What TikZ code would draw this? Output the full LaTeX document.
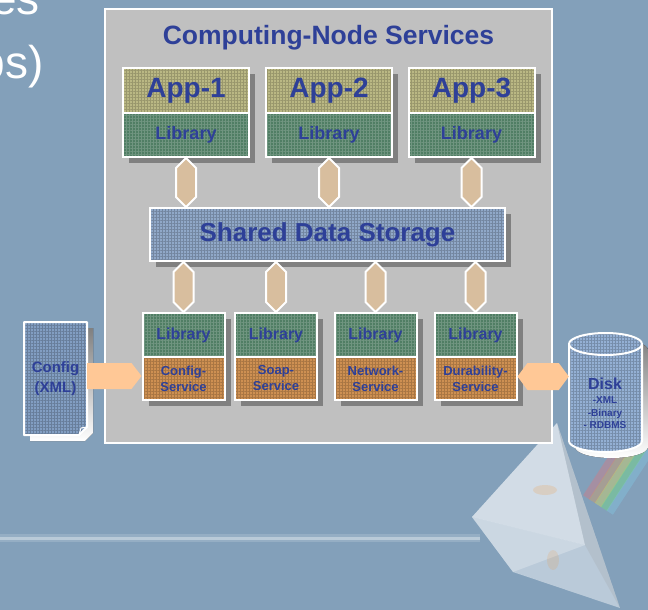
\documentclass[tikz,border=0pt]{standalone}
\usepackage{fontspec}
\setmainfont{Liberation Sans}
\usetikzlibrary{calc,shadows,patterns.meta}

\definecolor{bg}{RGB}{131,160,186}
\definecolor{panel}{RGB}{192,192,192}
\definecolor{ink}{RGB}{46,64,152}
\definecolor{apptop}{RGB}{186,184,132}
\definecolor{libgreen}{RGB}{80,126,100}
\definecolor{svcorange}{RGB}{206,144,82}
\definecolor{sdsblue}{RGB}{144,168,200}
\definecolor{docblue}{RGB}{130,158,194}
\definecolor{diskblue}{RGB}{148,176,212}
\definecolor{linktan}{RGB}{216,190,158}
\definecolor{peach}{RGB}{255,200,150}
\definecolor{shade}{RGB}{128,128,128}

\newcommand\sz[2]{\fontsize{#1}{#2}\selectfont}
% vertical double-headed link between two anchor points (upper, lower)
\newcommand\vlink[2]{\path[link] (#1) -- ($(#1)+(10,10)$) -- ($(#2)+(10,-10)$) -- (#2) -- ($(#2)+(-10,-10)$) -- ($(#1)+(-10,10)$) -- cycle;}
% the disk outline
\newcommand\diskpath{(569,344) -- (569,441) arc[start angle=180, end angle=0, x radius=36.5, y radius=11] -- (642,344) arc[start angle=0, end angle=-180, x radius=36.5, y radius=11] -- cycle}
% the folded document outline
\newcommand\docpath{(24,322) -- (87,322) -- (87,427) -- (79,435) -- (24,435) -- cycle}

\begin{document}
\begin{tikzpicture}[x=1pt,y=-1pt,
  gridfill/.style={pattern={Lines[distance=3pt,angle=0,line width=.5pt]}, pattern color=#1},
  gridfillv/.style={pattern={Lines[distance=3pt,angle=90,line width=.5pt]}, pattern color=#1},
  grain/.style={path picture={
      \fill[gridfill=#1] (path picture bounding box.south west) rectangle (path picture bounding box.north east);
      \fill[gridfillv=#1] (path picture bounding box.south west) rectangle (path picture bounding box.north east);}},
  box/.style={draw=white, line width=2pt, inner sep=0pt, text=ink},
  shadowed/.style={drop shadow={shadow xshift=6pt, shadow yshift=-6pt, fill=shade, opacity=1}},
  appbox/.style={box, shadowed, fill=apptop, grain=apptop!82!black, minimum width=126pt, minimum height=45pt, font=\bfseries\sz{28}{30}},
  applib/.style={box, shadowed, fill=libgreen, grain=libgreen!82!white, minimum width=126pt, minimum height=44pt, font=\bfseries\sz{18}{20}},
  svclib/.style={box, shadowed, fill=libgreen, grain=libgreen!82!white, minimum width=82pt, minimum height=44pt, font=\bfseries\sz{16}{18}},
  svc/.style={box, shadowed, fill=svcorange, grain=svcorange!82!black, minimum width=82pt, minimum height=43pt, font=\bfseries\sz{13}{16}, align=center},
  link/.style={fill=linktan, draw=white, line width=2pt, line join=miter},
  label/.style={text=ink, font=\bfseries, inner sep=0pt},
]
\useasboundingbox (0,0) rectangle (648,610);
\fill[bg] (0,0) rectangle (648,610);

% light beam and prism
\fill[white, opacity=0.15] (0,534) rectangle (480,542);
\fill[white, opacity=0.35] (0,536.5) rectangle (480,539.5);
\begin{scope}[line cap=butt]
  \foreach \o/\c in {-14/red!60!white, -7/orange!80!white, 0/yellow!80!white, 7/green!60!white, 14/cyan!50!white}{
    \draw[\c, opacity=0.28, line width=7.5pt] ($(598,505)+(0.841*\o,0.549*\o)$) -- ($(665,402)+(0.841*\o,0.549*\o)$);
  }
\end{scope}
\fill[white, opacity=0.45] (557,423) -- (472,517) -- (513,572) -- (620,608) -- cycle;
\fill[white, opacity=0.35] (557,423) -- (472,517) -- (585,545) -- cycle;
\fill[white, opacity=0.25] (472,517) -- (513,572) -- (585,545) -- cycle;
\fill[black!40, opacity=0.2] (557,423) -- (585,545) -- (620,608) -- cycle;
\fill[orange, opacity=0.15] (545,490) ellipse (12 and 5);
\fill[orange, opacity=0.12] (553,560) ellipse (6 and 10);

% heading fragments at the top left
\begin{scope}
  \clip (0,0) rectangle (648,610);
  \node[anchor=base east, text=white, font=\sz{46}{50}, inner sep=0pt] (hdA) at (40,15) {es};
  \node[anchor=base east, text=white, font=\sz{46}{50}, inner sep=0pt] (hdB) at (44,78) {ps)};
\end{scope}

% computing node panel
\node[draw=white, line width=2pt, fill=panel, minimum width=447pt, minimum height=434pt, inner sep=0pt] (panel) at (328.5,226) {};
\node[label, font=\bfseries\sz{26.5}{28}, anchor=base] (title) at (328.5,45) {Computing-Node Services};

% applications
\foreach \i/\x in {1/186, 2/329, 3/471.5}{
  \node[appbox] (app\i) at (\x,90.5) {App-\i};
  \node[applib] (lib\i) at (\x,135) {Library};
}

% shared storage
\node[box, shadowed, fill=sdsblue, grain=sdsblue!80!black, minimum width=355pt, minimum height=53pt, font=\bfseries\sz{26}{28}] (sds) at (327.5,234.5) {Shared Data Storage};

% services
\foreach \i/\x/\name in {1/183.5/Config, 2/276/Soap, 3/375.5/Network, 4/475.5/Durability}{
  \node[svclib] (slib\i) at (\x,335) {Library};
  \node[svc] (svc\i) at (\x,378.5) {\name-\\Service};
}

% links between libraries and storage
\foreach \i in {1,2,3}{ \vlink{lib\i.south}{lib\i.south |- sds.north} }
\foreach \i in {1,2,3,4}{ \vlink{slib\i.north |- sds.south}{slib\i.north} }

% configuration document
\fill[shade, shift={(6,6)}] \docpath;
\path[fill=docblue] \docpath;
\path[gridfill=docblue!80!black] \docpath;
\path[gridfillv=docblue!80!black] \docpath;
\draw[white, line width=2pt, line join=round] \docpath;
\draw[white, line width=1pt] (79,435) -- (81,428) -- (87,427);
\node[label, font=\bfseries\sz{15}{20}, align=center, minimum width=63pt, minimum height=113pt] (cfgdoc) at (55.5,378.5) {Config\\(XML)};

\coordinate (a1) at ($(cfgdoc.east)+(0,-2.5)$);
\coordinate (a2) at (a1 -| svc1.west);
\fill[peach] ($(a1)+(0,-13)$) -- ($(a2)+(-10,-13)$) -- (a2) -- ($(a2)+(-10,13)$) -- ($(a1)+(0,13)$) -- cycle;

% disk
\fill[shade, shift={(6,6)}] \diskpath;
\path[fill=diskblue] \diskpath;
\path[gridfill=diskblue!80!black] \diskpath;
\path[gridfillv=diskblue!80!black] \diskpath;
\draw[white, line width=2pt] \diskpath;
\draw[white, line width=2pt] (569,344) arc[start angle=180, end angle=0, x radius=36.5, y radius=11];
\node[minimum width=73pt, minimum height=119pt, inner sep=0pt] (disk) at (605.5,392.5) {};
\node[label, font=\bfseries\sz{16}{18}, anchor=base] (dsk) at (605,389) {Disk};
\node[label, font=\bfseries\sz{10}{12}, anchor=base] (dsk1) at (605,403) {-XML};
\node[label, font=\bfseries\sz{10}{12}, anchor=base] (dsk2) at (605,416) {-Binary};
\node[label, font=\bfseries\sz{10}{12}, anchor=base] (dsk3) at (605,428) {- RDBMS};

\coordinate (h1) at ($(svc4.east)+(0,-2)$);
\coordinate (h2) at (h1 -| disk.west);
\fill[peach] (h1) -- ($(h1)+(10,-13.5)$) -- ($(h2)+(-10,-13.5)$) -- (h2) -- ($(h2)+(-10,13.5)$) -- ($(h1)+(10,13.5)$) -- cycle;
\end{tikzpicture}
\end{document}
